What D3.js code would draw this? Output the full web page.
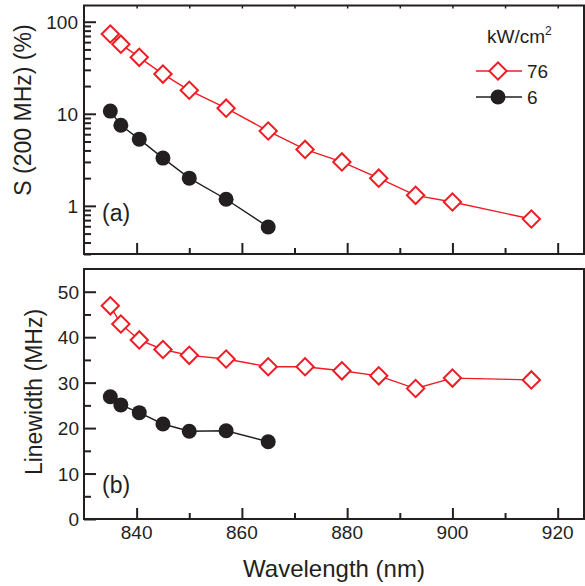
<!DOCTYPE html>
<html>
<head>
<meta charset="utf-8">
<script src="https://cdn.jsdelivr.net/npm/d3@7"></script>
<style>
  body { margin: 0; background: #fff; }
  text { font-family: "Liberation Sans", Arial, sans-serif; fill: #231f20; }
</style>
</head>
<body>
<div id="chart"></div>
<script>
// Data
const wlHigh = [835, 837, 840.5, 845, 850, 857, 865, 872, 879, 886, 893, 900, 915];
const sHigh = [73.5, 57, 41, 27, 18, 11.5, 6.5, 4.1, 3.0, 2.0, 1.3, 1.1, 0.72];
const lwHigh = [46.9, 42.9, 39.4, 37.3, 36.0, 35.2, 33.5, 33.5, 32.6, 31.5, 28.7, 31.0, 30.6];

const wlLow = [835, 837, 840.5, 845, 850, 857, 865];
const sLow = [10.7, 7.5, 5.3, 3.3, 2.0, 1.18, 0.59];
const lwLow = [26.9, 25.1, 23.4, 20.9, 19.3, 19.4, 17.0];

const legendTitle = 'kW/cm';
const legendNames = ['76', '6'];

const xTicks = [840, 860, 880, 900, 920];
const xMinor = [850, 870, 890, 910];
const sTicks = [1, 10, 100];
const lwTicks = [0, 10, 20, 30, 40, 50];
const lwMinor = [5, 15, 25, 35, 45];

function draw() {
  // Dimensions
  let dimensions = {
    width: 585,
    height: 586,
    left: 84,
    right: 584,
    topA: 5.5,
    bottomA: 254,
    topB: 269,
    bottomB: 519,
  };

  const red = '#ee1c24';
  const dark = '#231f20';

  const svg = d3.select('#chart')
    .append('svg')
    .attr('width', dimensions.width)
    .attr('height', dimensions.height)

  // Scales
  const xScale = d3.scaleLinear()
    .domain([830, 925])
    .range([dimensions.left, dimensions.right])

  const sScale = d3.scaleLog()
    .domain([0.3, 150])
    .range([dimensions.bottomA, dimensions.topA])

  const lwScale = d3.scaleLinear()
    .domain([0, 55])
    .range([dimensions.bottomB, dimensions.topB])

  // frames
  function frame(top, bottom) {
    svg.append('rect')
      .attr('x', dimensions.left)
      .attr('y', top)
      .attr('width', dimensions.right - dimensions.left)
      .attr('height', bottom - top)
      .attr('fill', 'none')
      .attr('stroke', dark)
      .attr('stroke-width', 2)
  }
  frame(dimensions.topA, dimensions.bottomA)
  frame(dimensions.topB, dimensions.bottomB)

  // x ticks (inward) for both panels
  function xAxis(y, major, minor, showLabels) {
    const g = svg.append('g').attr('transform', `translate(0, ${y})`)
    g.call(d3.axisTop(xScale).tickValues(xTicks).tickSize(major).tickFormat(''))
    g.append('g').call(d3.axisTop(xScale).tickValues(xMinor).tickSize(minor).tickFormat(''))
    g.selectAll('.domain').remove()
    g.selectAll('line').attr('stroke', dark).attr('stroke-width', 2)
    if (showLabels) {
      g.selectAll('.lbl')
        .data(xTicks)
        .join('text')
        .attr('x', d => xScale(d))
        .attr('y', 20)
        .attr('text-anchor', 'middle')
        .style('font-size', '19px')
        .text(d => d)
    }
  }
  xAxis(dimensions.bottomA, 11, 6, false)
  xAxis(dimensions.bottomB, 11, 6, true)

  // small ticks on top edge of panel (a)
  const topTicks = svg.append('g')
    .attr('transform', `translate(0, ${dimensions.topA})`)
    .call(d3.axisBottom(xScale).tickValues(xTicks.concat(xMinor)).tickSize(3).tickFormat(''))
  topTicks.select('.domain').remove()
  topTicks.selectAll('line').attr('stroke', dark).attr('stroke-width', 1.5)

  // y axis (a), log
  const sMinor = sScale.ticks().filter(d => !sTicks.includes(d))
  const gA = svg.append('g').attr('transform', `translate(${dimensions.left}, 0)`)
  gA.call(d3.axisRight(sScale).tickValues(sTicks).tickSize(12).tickFormat(''))
  gA.append('g').call(d3.axisRight(sScale).tickValues(sMinor).tickSize(7).tickFormat(''))
  gA.selectAll('.domain').remove()
  gA.selectAll('line').attr('stroke', dark).attr('stroke-width', 2)
  gA.selectAll('.lbl')
    .data(sTicks)
    .join('text')
    .attr('x', -6)
    .attr('y', d => sScale(d) + 7)
    .attr('text-anchor', 'end')
    .style('font-size', '19px')
    .text(d => d)

  // y axis (b), linear
  const gB = svg.append('g').attr('transform', `translate(${dimensions.left}, 0)`)
  gB.call(d3.axisRight(lwScale).tickValues(lwTicks).tickSize(12).tickFormat(''))
  gB.append('g').call(d3.axisRight(lwScale).tickValues(lwMinor).tickSize(7).tickFormat(''))
  gB.selectAll('.domain').remove()
  gB.selectAll('line').attr('stroke', dark).attr('stroke-width', 2)
  gB.selectAll('.lbl')
    .data(lwTicks)
    .join('text')
    .attr('x', -5)
    .attr('y', d => lwScale(d) + 7)
    .attr('text-anchor', 'end')
    .style('font-size', '19px')
    .text(d => d)

  // axis titles
  svg.append('text')
    .attr('transform', 'translate(31, 110) rotate(-90)')
    .attr('text-anchor', 'middle')
    .style('font-size', '23px')
    .text('S (200 MHz) (%)')

  svg.append('text')
    .attr('transform', 'translate(42, 392) rotate(-90)')
    .attr('text-anchor', 'middle')
    .style('font-size', '23px')
    .text('Linewidth (MHz)')

  svg.append('text')
    .attr('x', (dimensions.left + dimensions.right) / 2)
    .attr('y', 577)
    .attr('text-anchor', 'middle')
    .style('font-size', '24px')
    .text('Wavelength (nm)')

  // panel letters
  svg.append('text').attr('x', 102).attr('y', 221).style('font-size', '23px').text('(a)')
  svg.append('text').attr('x', 102).attr('y', 493).style('font-size', '23px').text('(b)')

  // series
  const diamond = d3.symbol().type(d3.symbolSquare).size(150)

  function series(xs, ys, yScale, color, kind) {
    const pts = xs.map((x, i) => [xScale(x), yScale(ys[i])])
    svg.append('path')
      .attr('d', d3.line()(pts))
      .attr('fill', 'none')
      .attr('stroke', color)
      .attr('stroke-width', 1.4)
    if (kind === 'diamond') {
      svg.append('g').selectAll('path')
        .data(pts)
        .join('path')
        .attr('d', diamond)
        .attr('transform', d => `translate(${d[0]}, ${d[1]}) rotate(45)`)
        .attr('fill', '#fff')
        .attr('stroke', color)
        .attr('stroke-width', 2)
    } else {
      svg.append('g').selectAll('circle')
        .data(pts)
        .join('circle')
        .attr('cx', d => d[0])
        .attr('cy', d => d[1])
        .attr('r', 7.5)
        .attr('fill', color)
    }
  }

  series(wlHigh, sHigh, sScale, red, 'diamond')
  series(wlLow, sLow, sScale, dark, 'circle')
  series(wlHigh, lwHigh, lwScale, red, 'diamond')
  series(wlLow, lwLow, lwScale, dark, 'circle')

  // legend
  const legend = svg.append('g')
  const title = legend.append('text')
    .attr('x', 487)
    .attr('y', 43)
    .style('font-size', '19px')
    .text(legendTitle)
  title.append('tspan')
    .attr('dy', -8)
    .style('font-size', '12px')
    .text('2')

  const rows = [
    { name: legendNames[0], color: red, kind: 'diamond', y: 71 },
    { name: legendNames[1], color: dark, kind: 'circle', y: 97 },
  ]
  rows.forEach(r => {
    legend.append('line')
      .attr('x1', 476).attr('x2', 522)
      .attr('y1', r.y).attr('y2', r.y)
      .attr('stroke', r.color)
      .attr('stroke-width', 1.4)
    if (r.kind === 'diamond') {
      legend.append('path')
        .attr('d', diamond)
        .attr('transform', `translate(498, ${r.y}) rotate(45)`)
        .attr('fill', '#fff')
        .attr('stroke', r.color)
        .attr('stroke-width', 2)
    } else {
      legend.append('circle')
        .attr('cx', 498).attr('cy', r.y).attr('r', 7.5)
        .attr('fill', r.color)
    }
    legend.append('text')
      .attr('x', 527)
      .attr('y', r.y + 7)
      .style('font-size', '19px')
      .text(r.name)
  })
}

draw()
</script>
</body>
</html>
